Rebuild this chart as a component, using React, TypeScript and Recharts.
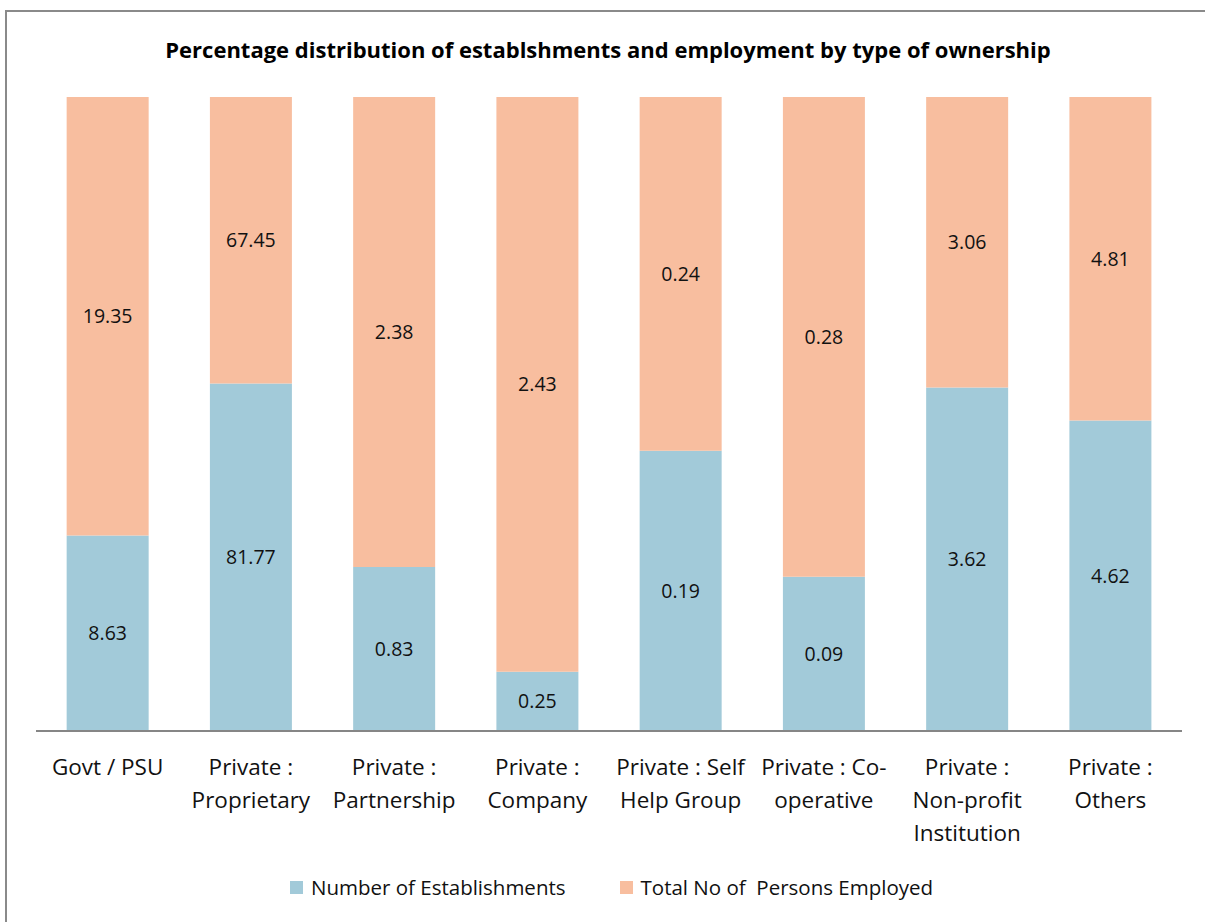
import React from 'react';
import { BarChart, Bar, XAxis, YAxis, LabelList } from 'recharts';

const CATEGORIES = [
  'Govt / PSU',
  'Private :\nProprietary',
  'Private :\nPartnership',
  'Private :\nCompany',
  'Private : Self\nHelp Group',
  'Private : Co-\noperative',
  'Private :\nNon-profit\nInstitution',
  'Private :\nOthers',
];
const ESTABLISHMENTS = [8.63, 81.77, 0.83, 0.25, 0.19, 0.09, 3.62, 4.62];
const EMPLOYED = [19.35, 67.45, 2.38, 2.43, 0.24, 0.28, 3.06, 4.81];

const BLUE = '#A2CAD9';
const ORANGE = '#F8BE9F';
const FONT = '"Open Sans", "Noto Sans", sans-serif';

const data = CATEGORIES.map((name, i) => ({
  name,
  est: ESTABLISHMENTS[i],
  emp: EMPLOYED[i],
}));

// multi-line category labels
const WrappedTick = (props: any) => {
  const { x, y, payload } = props;
  const lines = String(payload.value).split('\n');
  return (
    <g transform={`translate(${x},${y})`}>
      {lines.map((line, i) => (
        <text
          key={i}
          x={0}
          y={i * 33 + 36}
          textAnchor="middle"
          fontSize={22.5}
          fontFamily={FONT}
          fill="#111"
        >
          {line}
        </text>
      ))}
    </g>
  );
};

export default function App() {
  return (
    <div
      style={{
        position: 'absolute',
        left: 0,
        top: 0,
        width: 1205,
        height: 922,
        overflow: 'hidden',
        background: '#fff',
      }}
    >
      <div
        style={{
          position: 'absolute',
          left: 5,
          top: 10,
          width: 1230,
          height: 960,
          border: '2px solid #8a8a8a',
        }}
      />
      <div
        style={{
          position: 'absolute',
          left: 0,
          top: 34,
          width: 1216,
          textAlign: 'center',
          fontFamily: FONT,
          fontWeight: 'bold',
          fontSize: 22,
          color: '#000',
        }}
      >
        Percentage distribution of establshments and employment by type of ownership
      </div>
      <div style={{ position: 'absolute', left: 0, top: 0 }}>
        <BarChart
          width={1205}
          height={922}
          data={data}
          stackOffset="expand"
          barCategoryGap="21.4%"
          margin={{ top: 97, right: 23, bottom: 0, left: 36 }}
        >
          <XAxis
            dataKey="name"
            height={191}
            interval={0}
            tickLine={false}
            axisLine={{ stroke: '#868686', strokeWidth: 2 }}
            tick={<WrappedTick />}
          />
          <YAxis hide domain={[0, 1]} />
          <Bar dataKey="est" stackId="a" fill={BLUE} isAnimationActive={false}>
            <LabelList
              dataKey="est"
              position="center"
              fill="#111"
              fontSize={19.5}
              fontFamily={FONT}
            />
          </Bar>
          <Bar dataKey="emp" stackId="a" fill={ORANGE} isAnimationActive={false}>
            <LabelList
              dataKey="emp"
              position="center"
              fill="#111"
              fontSize={19.5}
              fontFamily={FONT}
            />
          </Bar>
        </BarChart>
      </div>
      <div
        style={{
          position: 'absolute',
          top: 873,
          left: 290,
          display: 'flex',
          alignItems: 'center',
          fontFamily: FONT,
          fontSize: 20.5,
          color: '#111',
          whiteSpace: 'pre',
        }}
      >
        <span style={{ width: 13, height: 13, background: BLUE, marginRight: 8 }} />
        <span>Number of Establishments</span>
        <span style={{ width: 13, height: 13, background: ORANGE, marginLeft: 54, marginRight: 8 }} />
        <span>Total No of  Persons Employed</span>
      </div>
    </div>
  );
}
